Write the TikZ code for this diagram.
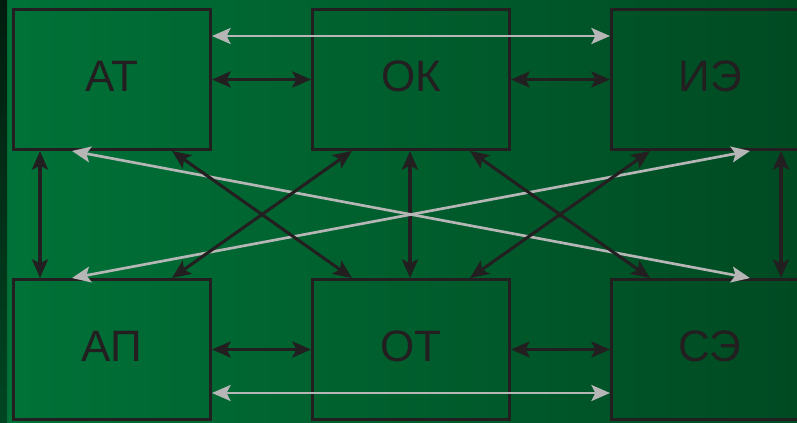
\documentclass[tikz,border=0pt]{standalone}
\usepackage{fontspec}
\setmainfont{Liberation Sans}
\usetikzlibrary{arrows.meta,calc}
\definecolor{bgL}{RGB}{0,114,56}
\definecolor{bgR}{RGB}{0,74,34}
\definecolor{stripT}{RGB}{0,28,14}
\definecolor{stripB}{RGB}{0,70,34}
\definecolor{ink}{RGB}{35,31,32}
\definecolor{lgray}{RGB}{182,182,182}
\begin{document}
\begin{tikzpicture}[x=0.75pt,y=-0.75pt,
  box/.style={draw=ink,line width=2.2pt,minimum width=147.75pt,minimum height=105pt,inner sep=0pt},
  lbl/.style={font=\fontsize{33}{40}\selectfont,text=ink,yshift=2.6pt},
  tip/.tip={Stealth[length=14pt,width=12pt,inset=3pt]},
  blk/.style={draw=ink,line width=2.3pt,tip-tip},
  gry/.style={draw=lgray,line width=2pt,tip-tip}]
\useasboundingbox (0,0) rectangle (797,423);
\clip (0,0) rectangle (797,423);
\shade[left color=bgL,right color=bgR] (0,0) rectangle (797,423);
\shade[top color=stripT,bottom color=stripB] (0,0) rectangle (7,423);
% boxes
\node[box,label={[lbl]center:АТ}] (AT) at (112,79.5) {};
\node[box,label={[lbl]center:ОК}] (OK) at (411,79.5) {};
\node[box,label={[lbl]center:ИЭ}] (IE) at (710,79.5) {};
\node[box,label={[lbl]center:АП}] (AP) at (112,349.5) {};
\node[box,label={[lbl]center:ОТ}] (OT) at (411,349.5) {};
\node[box,label={[lbl]center:СЭ}] (SE) at (710,349.5) {};
% horizontal
\draw[gry] ($(AT.east)+(0,-43.5)$) -- ($(IE.west)+(0,-43.5)$);
\draw[blk] (AT.east) -- (OK.west);
\draw[blk] (OK.east) -- (IE.west);
\draw[blk] (AP.east) -- (OT.west);
\draw[blk] (OT.east) -- (SE.west);
\draw[gry] ($(AP.east)+(0,43.5)$) -- ($(SE.west)+(0,43.5)$);
% vertical
\draw[blk] ($(AT.south)+(-72,0)$) -- ($(AP.north)+(-72,0)$);
\draw[blk] ($(OK.south)+(-1,0)$) -- ($(OT.north)+(-1,0)$);
\draw[blk] ($(IE.south)+(71,0)$) -- ($(SE.north)+(71,0)$);
% gray diagonals
\draw[gry] ($(AT.south)+(-40,0)$) -- ($(SE.north)+(40,0)$);
\draw[gry] ($(IE.south)+(40,0)$) -- ($(AP.north)+(-40,0)$);
% black diagonals
\draw[blk] ($(AT.south)+(60,0)$) -- ($(OT.north)+(-59,0)$);
\draw[blk] ($(OK.south)+(-59,0)$) -- ($(AP.north)+(60,0)$);
\draw[blk] ($(OK.south)+(59,0)$) -- ($(SE.north)+(-60,0)$);
\draw[blk] ($(IE.south)+(-60,0)$) -- ($(OT.north)+(59,0)$);
\end{tikzpicture}
\end{document}
